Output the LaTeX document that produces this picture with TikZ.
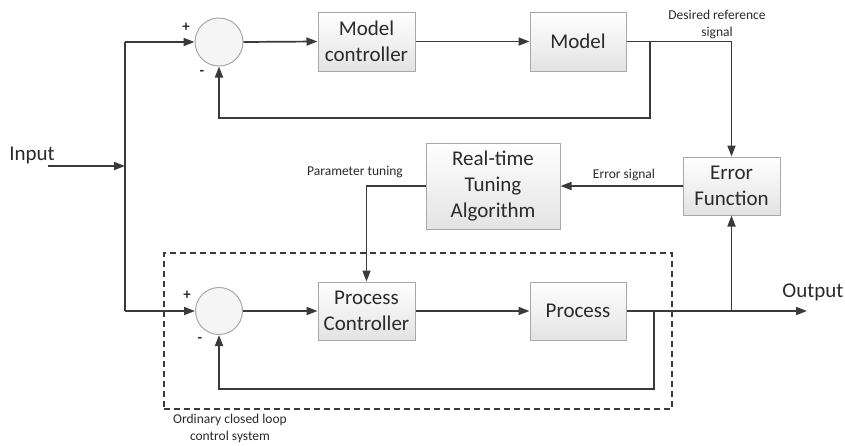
\documentclass[tikz,border=0pt]{standalone}
\usepackage{fontspec}
\setmainfont{Carlito}
\usetikzlibrary{arrows.meta,calc}
\definecolor{ln}{HTML}{3A3A3A}
\definecolor{bx}{HTML}{A8A8A8}
\definecolor{tx}{HTML}{2A2A2A}
\begin{document}
\begin{tikzpicture}[x=1pt,y=-1pt,
  blk/.style={draw=bx, line width=1pt, top color=white, bottom color=black!11, align=center,
    text=tx, inner sep=0pt, font=\fontsize{21}{26}\selectfont},
  sum/.style={circle, draw=bx, line width=1pt, fill=black!4, minimum size=#1, inner sep=0pt},
  conn/.style={draw=ln, line width=1.7pt},
  arr/.style={conn, -{Triangle[length=11pt,width=8pt]}},
  lbl/.style={text=tx, align=center, inner sep=0pt, font=\fontsize{13.5}{17}\selectfont},
  big/.style={text=tx, inner sep=0pt, font=\fontsize{21}{26}\selectfont},
  sign/.style={text=tx, inner sep=0pt, font=\fontsize{15}{17}\selectfont\bfseries}]
\useasboundingbox (0,0) rectangle (845,445);
% dashed enclosure
\node[draw=ln, line width=1.7pt, dash pattern=on 6pt off 4pt, minimum width=508pt, minimum height=156pt, inner sep=0pt] (cl) at (418,331) {};
% blocks
\node[blk, minimum width=97pt, minimum height=59pt] (mc) at (366.5,41.5) {Model\\controller};
\node[blk, minimum width=96pt, minimum height=59pt] (model) at (578,41.5) {Model};
\node[blk, minimum width=134pt, minimum height=86pt] (rt) at (493,186) {Real-time\\Tuning\\Algorithm};
\node[blk, minimum width=97pt, minimum height=58pt] (ef) at (731.5,186) {Error\\Function};
\node[blk, minimum width=97pt, minimum height=58pt] (pc) at (366.5,311) {Process\\Controller};
\node[blk, minimum width=96pt, minimum height=58pt] (proc) at (578,311) {Process};
\node[sum=48pt] (s1) at (219,42) {};
\node[sum=47pt] (s2) at (219,311) {};
% coordinates
\coordinate (lt) at (125,42);
\coordinate (lb) at (125,311);
\coordinate (inj) at (125,166);
\coordinate (in) at (48,166);
\coordinate (b1) at (650,42);
\coordinate (fb1) at (219,118);
\coordinate (b2) at (654,311);
\coordinate (fb2) at (219,389);
\coordinate (b3) at (731.5,311);
\coordinate (out) at (807,311);
% connectors
\draw[conn] (lt) -- (lb);
\draw[arr] (in) -- (inj);
\draw[arr] (lt) -- (s1.west);
\draw[arr] (lb) -- (s2.west);
\draw[arr] (s1.east) -- (mc.west);
\draw[arr] (mc.east) -- (model.west);
\draw[arr] (model.east) -| (ef.north);
\draw[arr] (b1) |- (fb1) -- (s1.south);
\draw[arr] (ef.west) -- (rt.east);
\draw[arr] (rt.west) -| (pc.north);
\draw[arr] (s2.east) -- (pc.west);
\draw[arr] (pc.east) -- (proc.west);
\draw[arr] (proc.east) -- (out);
\draw[arr] (b2) |- (fb2) -- (s2.south);
\draw[arr] (b3) -- (ef.south);
% labels
\node[lbl] (l1) at (717,24.5) {Desired reference\\signal};
\node[lbl] (l2) at (624,175) {Error signal};
\node[lbl] (l3) at (355,172) {Parameter tuning};
\node[lbl] (l4) at (230,428) {Ordinary closed loop\\control system};
\node[big] (inp) at (32,155) {Input};
\node[big] (outp) at (813,292) {Output};
\node[sign] (p1) at (186,27) {+};
\node[sign] (m1) at (202,73) {-};
\node[sign] (p2) at (187,295) {+};
\node[sign] (m2) at (200,340) {-};
\end{tikzpicture}
\end{document}
